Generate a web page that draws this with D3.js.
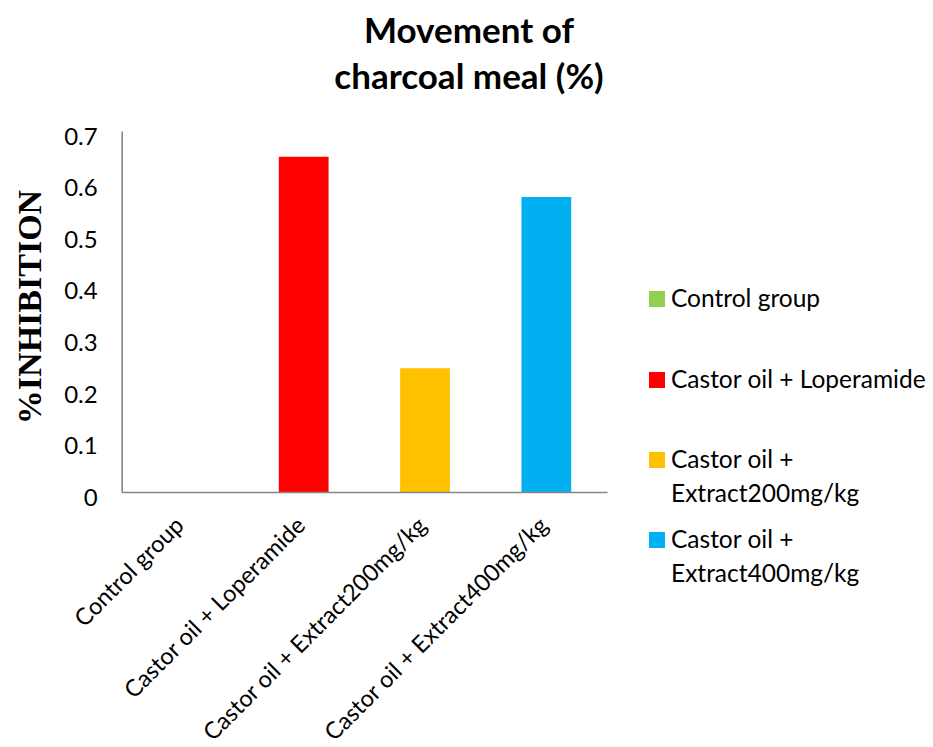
<!DOCTYPE html>
<html>
<head>
<meta charset="utf-8">
<script src="https://cdn.jsdelivr.net/npm/d3@7"></script>
<style>
  body { margin: 0; background: #fff; }
  text { font-family: Lato, "Open Sans", sans-serif; fill: #000; }
</style>
</head>
<body>
<div id="chart"></div>
<script>
// Chart data
const categories = [
  'Control group',
  'Castor oil + Loperamide',
  'Castor oil + Extract200mg/kg',
  'Castor oil + Extract400mg/kg'
];
const values = [0, 0.65, 0.24, 0.572];
const colors = ['#92D050', '#FF0000', '#FFC000', '#00B0F0'];
const yTicks = [0, 0.1, 0.2, 0.3, 0.4, 0.5, 0.6, 0.7];
const titleLines = ['Movement of', 'charcoal meal (%)'];
const yTitle = '%INHIBITION';

const width = 933, height = 747;
const plot = { left: 121.7, right: 607, top: 131, bottom: 492 };
const axisColor = '#868686';

const svg = d3.select('#chart').append('svg')
  .attr('width', width)
  .attr('height', height);

// Scales: band scale so bars sit centred in each category slot
const x = d3.scaleBand()
  .domain(categories)
  .range([plot.left, plot.right])
  .paddingInner(0.59)
  .paddingOuter(0.295);

const y = d3.scaleLinear()
  .domain([0, 0.7])
  .range([plot.bottom, plot.top]);

// Title
svg.append('g')
  .selectAll('text')
  .data(titleLines)
  .enter()
  .append('text')
  .attr('x', 469)
  .attr('y', (d, i) => 43 + i * 46)
  .attr('text-anchor', 'middle')
  .style('font-size', '35px')
  .style('font-weight', 'bold')
  .text(d => d);

// Bars
svg.selectAll('.bar')
  .data(values)
  .enter()
  .append('rect')
  .attr('class', 'bar')
  .attr('x', (d, i) => x(categories[i]))
  .attr('y', d => y(d))
  .attr('width', x.bandwidth())
  .attr('height', d => y(0) - y(d))
  .attr('fill', (d, i) => colors[i]);

// Y axis (no tick marks, labels sit a little below their value like Excel)
const yAxis = d3.axisLeft(y)
  .tickValues(yTicks)
  .tickSize(0)
  .tickPadding(24)
  .tickFormat(d => d === 0 ? '0' : d.toFixed(1));

const gy = svg.append('g')
  .attr('transform', `translate(${plot.left},0)`)
  .call(yAxis);
gy.select('.domain').attr('stroke', axisColor).attr('stroke-width', 1.6);
gy.selectAll('text')
  .attr('dy', '0.55em')
  .style('font-size', '24px')
  .style('font-family', 'Lato, sans-serif');

// X axis with rotated category labels
const xAxis = d3.axisBottom(x).tickSize(0).tickSizeOuter(0);
const gx = svg.append('g')
  .attr('transform', `translate(0,${plot.bottom})`)
  .call(xAxis);
gx.select('.domain').attr('stroke', axisColor).attr('stroke-width', 1.6);
gx.selectAll('text')
  .attr('x', 0)
  .attr('y', 0)
  .attr('dy', 0)
  .attr('text-anchor', 'end')
  .attr('transform', 'translate(3,35) rotate(-45)')
  .style('font-size', '23.5px')
  .style('font-family', 'Lato, sans-serif');

// Y axis title
svg.append('text')
  .attr('transform', 'translate(41,307) rotate(-90)')
  .attr('text-anchor', 'middle')
  .style('font-family', '"Liberation Serif", "DejaVu Serif", serif')
  .style('font-weight', 'bold')
  .style('font-size', '34px')
  .text(yTitle);

// Legend
const legendY = [299, 380, 460, 540];
const legendMaxWidth = 262;

const legend = svg.append('g')
  .selectAll('g')
  .data(categories)
  .enter()
  .append('g')
  .attr('transform', (d, i) => `translate(649,${legendY[i]})`);

legend.append('rect')
  .attr('x', 0)
  .attr('y', -8)
  .attr('width', 16)
  .attr('height', 16)
  .attr('fill', (d, i) => colors[i]);

legend.each(function(d) {
  const g = d3.select(this);
  const text = g.append('text')
    .attr('x', 22)
    .attr('y', 8)
    .style('font-size', '24.5px');
  // simple word wrap
  const words = d.split(' ');
  let line = [];
  let tspan = text.append('tspan').attr('x', 22).attr('dy', 0);
  words.forEach(w => {
    line.push(w);
    tspan.text(line.join(' '));
    if (tspan.node().getComputedTextLength() > legendMaxWidth && line.length > 1) {
      line.pop();
      tspan.text(line.join(' '));
      line = [w];
      tspan = text.append('tspan').attr('x', 22).attr('dy', 34).text(w);
    }
  });
});
</script>
</body>
</html>
